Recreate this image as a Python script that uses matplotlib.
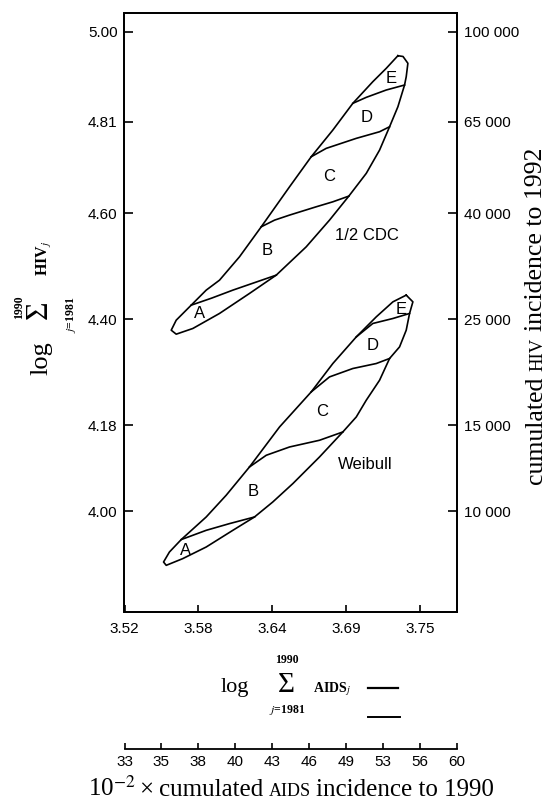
import numpy as np
import matplotlib.pyplot as plt
from matplotlib.lines import Line2D

plt.rcParams["font.family"] = ["Liberation Sans", "DejaVu Sans"]
plt.rcParams["mathtext.fontset"] = "stix"

W, H = 548, 806
SERIF = ["Liberation Serif", "DejaVu Serif"]

# ---------- axis scales (log10 of cumulated counts) -------------------------

aids_hundreds = [33, 35, 38, 40, 43, 46, 49, 53, 56, 60]
aids_log_labels = ["3.52", "3.58", "3.64", "3.69", "3.75"]
hiv_count_labels = ["10 000", "15 000", "25 000", "40 000", "65 000", "100 000"]
hiv_log_labels = ["4.00", "4.18", "4.40", "4.60", "4.81", "5.00"]
hiv_tick_pos = [4.000, 4.179, 4.400, 4.621, 4.812, 5.000]

# ---------- 1/2 CDC region (x = log AIDS, y = log HIV) ----------------------

cdc_x = [3.7320, 3.7360, 3.7398, 3.7385, 3.7372, 3.7320, 3.7255, 3.7177,
         3.7073, 3.6937, 3.6786, 3.6604, 3.6370, 3.6161, 3.5927, 3.5719,
         3.5589, 3.5550, 3.5589, 3.5706, 3.5823, 3.5927, 3.6083, 3.6253,
         3.6474, 3.6643, 3.6812, 3.6968, 3.7124, 3.7229, 3.7320]
cdc_y = [4.9499, 4.9483, 4.9341, 4.9061, 4.8888, 4.8435, 4.8018, 4.7532,
         4.7046, 4.6572, 4.6071, 4.5514, 4.4924, 4.4542, 4.4125, 4.3812,
         4.3693, 4.3776, 4.3985, 4.4298, 4.4611, 4.4819, 4.5306, 4.5932,
         4.6766, 4.7392, 4.7949, 4.8506, 4.8957, 4.9236, 4.9499]

cdc_div_x = [[3.5706, 3.5865, 3.6031, 3.6200, 3.6370],
             [3.6253, 3.6357, 3.6474, 3.6682, 3.6812, 3.6937],
             [3.6643, 3.6760, 3.6995, 3.7177, 3.7255],
             [3.6968, 3.7073, 3.7229, 3.7372]]
cdc_div_y = [[4.4298, 4.4444, 4.4611, 4.4767, 4.4924],
             [4.5932, 4.6071, 4.6176, 4.6349, 4.6453, 4.6572],
             [4.7392, 4.7567, 4.7776, 4.7914, 4.8018],
             [4.8506, 4.8631, 4.8784, 4.8888]]

# ---------- Weibull region ---------------------------------------------------

wb_x = [3.7385, 3.7437, 3.7411, 3.7385, 3.7333, 3.7255, 3.7177, 3.7073,
        3.6995, 3.6890, 3.6708, 3.6500, 3.6343, 3.6200, 3.6031, 3.5823,
        3.5640, 3.5511, 3.5490, 3.5536, 3.5628, 3.5823, 3.5979, 3.6161,
        3.6396, 3.6643, 3.6812, 3.6995, 3.7151, 3.7281, 3.7385]
wb_y = [4.4507, 4.4367, 4.4125, 4.3776, 4.3428, 4.3186, 4.2733, 4.2316,
        4.1967, 4.1654, 4.1133, 4.0578, 4.0194, 3.9881, 3.9603, 3.9255,
        3.9013, 3.8873, 3.8942, 3.9151, 3.9410, 3.9881, 4.0334, 4.0924,
        4.1759, 4.2489, 4.3081, 4.3636, 4.4054, 4.4367, 4.4507]

wb_div_x = [[3.5628, 3.5823, 3.6005, 3.6200],
            [3.6161, 3.6292, 3.6474, 3.6708, 3.6890],
            [3.6643, 3.6786, 3.6968, 3.7151, 3.7255],
            [3.6995, 3.7124, 3.7281, 3.7411]]
wb_div_y = [[3.9410, 3.9603, 3.9743, 3.9881],
            [4.0924, 4.1168, 4.1341, 4.1481, 4.1654],
            [4.2489, 4.2802, 4.2977, 4.3081, 4.3186],
            [4.3636, 4.3916, 4.4020, 4.4125]]

# ---------- region letters ---------------------------------------------------

zone_letters = ["A", "B", "C", "D", "E"]
cdc_lab_x = [3.5771, 3.6300, 3.6781, 3.7073, 3.7268]
cdc_lab_y = [4.4125, 4.5431, 4.6975, 4.8214, 4.9028]
wb_lab_x = [3.5661, 3.6187, 3.6729, 3.7124, 3.7346]
wb_lab_y = [3.9186, 4.0417, 4.2072, 4.3463, 4.4208]
model_names = ["1/2 CDC", "Weibull"]
model_lab_x = [3.7081, 3.7067]
model_lab_y = [4.5758, 4.0980]


# ---------- helpers ----------------------------------------------------------

def fx(px):
    return px / W


def fy(py):
    return 1 - py / H


def text_run(fig, xc, yc, pieces, rotation=0):
    """Place (text, props, gap_px) pieces one after another, centred at (xc, yc) px."""
    renderer = fig.canvas.get_renderer()
    made = []
    for s, props, gap in pieces:
        t = fig.text(0, 0, s, rotation=rotation, rotation_mode="anchor",
                     ha="left", va="baseline", **props)
        ext = t.get_window_extent(renderer)
        made.append((t, (ext.height if rotation else ext.width), gap))
    total = sum(w + g for _, w, g in made) - made[-1][2]
    pos = -total / 2
    for t, w, g in made:
        if rotation:
            t.set_position((fx(xc), fy(yc - pos)))
        else:
            t.set_position((fx(xc + pos), fy(yc)))
        pos += w + g


# ---------- figure -----------------------------------------------------------

fig = plt.figure(figsize=(W / 100, H / 100), dpi=100)
ax = fig.add_axes([fx(124.5), fy(612), (457 - 124.5) / W, (612 - 12.7) / H])

x_ticks = np.linspace(np.log10(3300), np.log10(6000), len(aids_hundreds))

for xs, ys, dxs, dys in [(cdc_x, cdc_y, cdc_div_x, cdc_div_y),
                         (wb_x, wb_y, wb_div_x, wb_div_y)]:
    ax.plot(xs, ys, color="black", lw=1.2, solid_joinstyle="round")
    for dx, dy in zip(dxs, dys):
        ax.plot(dx, dy, color="black", lw=1.2, solid_joinstyle="round")

for lx, ly in [(cdc_lab_x, cdc_lab_y), (wb_lab_x, wb_lab_y)]:
    for letter, x, y in zip(zone_letters, lx, ly):
        ax.text(x, y, letter, ha="center", va="center", fontsize=12)
for name, x, y in zip(model_names, model_lab_x, model_lab_y):
    ax.text(x, y, name, ha="center", va="center", fontsize=12)

ax.set_xlim(x_ticks[0], x_ticks[-1])
ax.set_ylim(3.790, 5.0396)
for sp in ax.spines.values():
    sp.set_linewidth(1.3)

ax.set_xticks(x_ticks[::2], aids_log_labels)
ax.set_yticks(hiv_tick_pos, hiv_log_labels)
ax.tick_params(axis="x", direction="in", length=5, width=1.2, labelsize=11, pad=7)
ax.tick_params(axis="y", direction="in", length=6.5, width=1.2, labelsize=11, pad=5)

ax_r = ax.twinx()
ax_r.set_ylim(ax.get_ylim())
ax_r.set_yticks(hiv_tick_pos, hiv_count_labels)
ax_r.tick_params(axis="y", direction="in", length=6.5, width=1.2, labelsize=11, pad=5)
for sp in ax_r.spines.values():
    sp.set_linewidth(1.3)

# second scale under the plot: 10^-2 x cumulated AIDS
ax_b = fig.add_axes([fx(124.5), fy(749.3), (457 - 124.5) / W, 0.0001])
ax_b.set_xlim(ax.get_xlim())
for side in ["left", "right", "top"]:
    ax_b.spines[side].set_visible(False)
ax_b.spines["bottom"].set_linewidth(1.3)
ax_b.set_yticks([])
ax_b.set_xticks(x_ticks, [str(v) for v in aids_hundreds])
ax_b.tick_params(axis="x", direction="in", length=4.5, width=1.2, labelsize=11, pad=4)

# ---------- axis titles ------------------------------------------------------

bold_small = dict(family=SERIF, fontsize=8.5, fontweight="bold")

# bottom: log sum AIDS_j
fig.text(fx(235), fy(692), "log", family=SERIF, fontsize=16, ha="center", va="baseline")
fig.text(fx(286), fy(692), "\u03a3", family=SERIF, fontsize=21, ha="center", va="baseline")
fig.text(fx(287), fy(660), "1990", ha="center", va="center", **bold_small)
fig.text(fx(287), fy(710), "$j$=1981", ha="center", va="center", **bold_small)
fig.text(fx(313), fy(692), "AIDS$_j$", family=SERIF, fontsize=10, fontweight="bold",
         ha="left", va="baseline")
fig.add_artist(Line2D([fx(368), fx(398)], [fy(687.5)] * 2, color="black", lw=1.6))
fig.add_artist(Line2D([fx(368), fx(400)], [fy(716.5)] * 2, color="black", lw=1.4))

# left: log sum HIV_j
fig.text(fx(47), fy(358), "log", family=SERIF, fontsize=19, rotation=90,
         rotation_mode="anchor", ha="center", va="baseline")
fig.text(fx(47), fy(310), "\u03a3", family=SERIF, fontsize=23, rotation=90,
         rotation_mode="anchor", ha="center", va="baseline")
fig.text(fx(19), fy(307), "1990", rotation=90, ha="center", va="center", **bold_small)
fig.text(fx(71), fy(315), "$j$=1981", rotation=90, ha="center", va="center", **bold_small)
fig.text(fx(48), fy(258), "HIV$_j$", family=SERIF, fontsize=11.5, fontweight="bold",
         rotation=90, rotation_mode="anchor", ha="center", va="baseline")

serif_big = dict(family=SERIF, fontsize=18.5)
serif_caps = dict(family=SERIF, fontsize=13.5)
title_big = dict(family=SERIF, fontsize=18)
title_caps = dict(family=SERIF, fontsize=13)

# right: cumulated HIV incidence to 1992
text_run(fig, 542, 316, [("cumulated", serif_big, 6),
                         ("HIV", serif_caps, 6),
                         ("incidence to 1992", serif_big, 0)], rotation=90)

# bottom: 10^-2 x cumulated AIDS incidence to 1990
text_run(fig, 291, 796, [("10$^{-2}$", title_big, 3),
                         ("\u00d7", title_big, 6),
                         ("cumulated", title_big, 5),
                         ("AIDS", title_caps, 5),
                         ("incidence to 1990", title_big, 0)])

fig.savefig("out.png", dpi=100, facecolor="white")
